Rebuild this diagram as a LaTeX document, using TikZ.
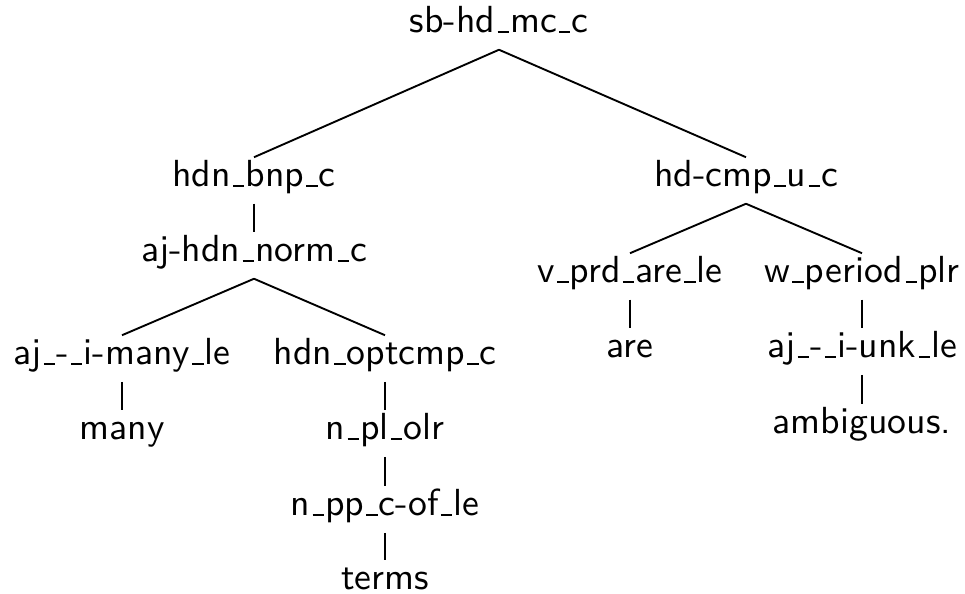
\documentclass[tikz,border=0pt]{standalone}
\makeatletter
\newcommand\us{\leavevmode\kern.06em\vbox{\hrule\@width.3em height .5pt}\kern.03em}
\makeatother
\begin{document}
\begin{tikzpicture}[x=0.265pt,y=-0.265pt,
  lab/.style={font=\sffamily\fontsize{10}{12}\selectfont, inner xsep=0pt, inner ysep=0pt,
    text height=7.69pt, text depth=4.24pt, anchor=base},
  edge/.style={line width=0.5pt}]
\useasboundingbox (0,0) rectangle (965,594);
\node[lab] (root) at (499,33) {sb-hd\us mc\us c};
\node[lab] (n1) at (254,187) {hdn\us bnp\us c};
\node[lab] (n2) at (254,262) {aj-hdn\us norm\us c};
\node[lab] (n3) at (122,365) {aj\us-\us i-many\us le};
\node[lab] (n4) at (122,440) {many};
\node[lab] (n5) at (385,365) {hdn\us optcmp\us c};
\node[lab] (n6) at (385,440) {n\us pl\us olr};
\node[lab] (n7) at (385,516) {n\us pp\us c-of\us le};
\node[lab] (n8) at (385,590) {terms};
\node[lab] (n9) at (746,187) {hd-cmp\us u\us c};
\node[lab] (n10) at (630,283) {v\us prd\us are\us le};
\node[lab] (n11) at (862,283) {w\us period\us plr};
\node[lab] (n12) at (630,358) {are};
\node[lab] (n13) at (862,358) {aj\us-\us i-unk\us le};
\node[lab] (n14) at (862,434) {ambiguous.};
\draw[edge] (root.south) -- (n1.north);
\draw[edge] (root.south) -- (n9.north);
\draw[edge] (n1.south) -- (n2.north);
\draw[edge] (n2.south) -- (n3.north);
\draw[edge] (n2.south) -- (n5.north);
\draw[edge] (n3.south) -- (n4.north);
\draw[edge] (n5.south) -- (n6.north);
\draw[edge] (n6.south) -- (n7.north);
\draw[edge] (n7.south) -- (n8.north);
\draw[edge] (n9.south) -- (n10.north);
\draw[edge] (n9.south) -- (n11.north);
\draw[edge] (n10.south) -- (n12.north);
\draw[edge] (n11.south) -- (n13.north);
\draw[edge] (n13.south) -- (n14.north);
\end{tikzpicture}
\end{document}
